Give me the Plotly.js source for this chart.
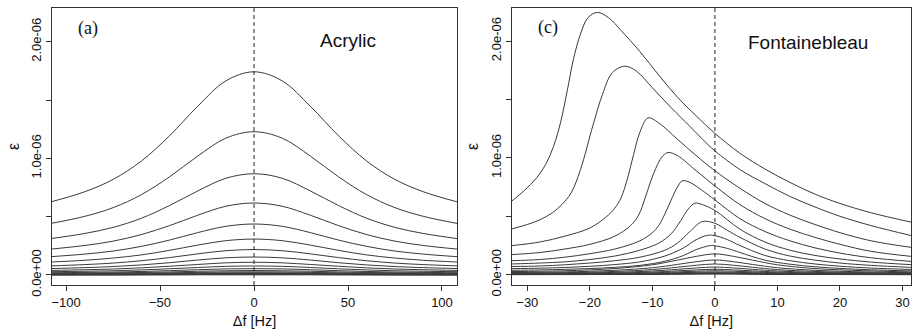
<!DOCTYPE html>
<html><head><meta charset="utf-8">
<script src="https://cdn.plot.ly/plotly-3.0.1.min.js"></script>
<style>html,body{margin:0;padding:0;background:#fff}#chart{width:912px;height:332px}</style>
</head><body><div id="chart"></div>
<script>
// ---------- Panel (a): Acrylic ----------  (epsilon in units of 1e-6)
const acrylicDf = [-108,-90,-75,-60,-45,-30,-15,0,15,30,45,60,75,90,108];
const acrylic1  = [0.627,0.714,0.819,0.976,1.193,1.446,1.664,1.742,1.664,1.446,1.193,0.976,0.819,0.714,0.627];
const acrylic2  = [0.442,0.503,0.577,0.688,0.841,1.019,1.173,1.228,1.173,1.019,0.841,0.688,0.577,0.503,0.442];
const acrylic3  = [0.312,0.356,0.408,0.486,0.595,0.720,0.829,0.868,0.829,0.720,0.595,0.486,0.408,0.356,0.312];
const acrylic4  = [0.222,0.253,0.290,0.346,0.423,0.512,0.589,0.617,0.589,0.512,0.423,0.346,0.290,0.253,0.222];
const acrylic5  = [0.157,0.179,0.205,0.245,0.299,0.363,0.417,0.437,0.417,0.363,0.299,0.245,0.205,0.179,0.157];
const acrylic6  = [0.111,0.126,0.145,0.172,0.211,0.256,0.294,0.308,0.294,0.256,0.211,0.172,0.145,0.126,0.111];
const acrylic7  = [0.078,0.089,0.102,0.122,0.149,0.181,0.208,0.218,0.208,0.181,0.149,0.122,0.102,0.089,0.078];
const acrylic8  = [0.055,0.063,0.072,0.086,0.105,0.128,0.147,0.154,0.147,0.128,0.105,0.086,0.072,0.063,0.055];
const acrylic9  = [0.039,0.045,0.051,0.061,0.075,0.090,0.104,0.109,0.104,0.090,0.075,0.061,0.051,0.045,0.039];
const acrylic10 = [0.028,0.032,0.036,0.043,0.053,0.064,0.074,0.077,0.074,0.064,0.053,0.043,0.036,0.032,0.028];
const acrylic11 = [0.019,0.022,0.025,0.030,0.037,0.045,0.052,0.054,0.052,0.045,0.037,0.030,0.025,0.022,0.019];
const acrylic12 = [0.014,0.016,0.018,0.021,0.026,0.032,0.036,0.038,0.036,0.032,0.026,0.021,0.018,0.016,0.014];
const acrylic13 = [0.010,0.011,0.013,0.015,0.018,0.022,0.026,0.027,0.026,0.022,0.018,0.015,0.013,0.011,0.010];
const acrylic14 = [0.007,0.008,0.009,0.011,0.013,0.016,0.018,0.019,0.018,0.016,0.013,0.011,0.009,0.008,0.007];
const acrylic15 = [0.005,0.006,0.006,0.008,0.009,0.011,0.013,0.014,0.013,0.011,0.009,0.008,0.006,0.006,0.005];
const acrylic16 = [0.003,0.004,0.004,0.005,0.006,0.008,0.009,0.010,0.009,0.008,0.006,0.005,0.004,0.004,0.003];
const acrylic17 = [0.002,0.003,0.003,0.004,0.005,0.006,0.006,0.007,0.006,0.006,0.005,0.004,0.003,0.003,0.002];
const acrylic18 = [0.002,0.002,0.002,0.003,0.003,0.004,0.004,0.005,0.004,0.004,0.003,0.003,0.002,0.002,0.002];
const acrylic19 = [0.001,0.001,0.002,0.002,0.002,0.003,0.003,0.003,0.003,0.003,0.002,0.002,0.002,0.001,0.001];
const acrylic20 = [0.001,0.001,0.001,0.001,0.002,0.002,0.002,0.002,0.002,0.002,0.002,0.001,0.001,0.001,0.001];
const acrylicCurves = [acrylic1,acrylic2,acrylic3,acrylic4,acrylic5,acrylic6,acrylic7,acrylic8,acrylic9,acrylic10,
  acrylic11,acrylic12,acrylic13,acrylic14,acrylic15,acrylic16,acrylic17,acrylic18,acrylic19,acrylic20];

// ---------- Panel (c): Fontainebleau ----------
const fontX1 = [-32.5,-30.5,-28.5,-27,-25.8,-24.7,-23.6,-22.6,-21.5,-20.3,-18.8,-17,-15,-12,-9,-6,-3,0,4,8,12,16,20,25,31.4];
const fontY1 = [0.63,0.72,0.83,0.95,1.10,1.30,1.58,1.85,2.06,2.20,2.245,2.20,2.09,1.91,1.71,1.52,1.36,1.21,1.04,0.905,0.79,0.69,0.61,0.53,0.45];
const fontX2 = [-32.5,-30,-28,-26,-24.5,-23,-21.5,-19.5,-18,-16.4,-14.4,-12.5,-10,-7,-4,-2,0,4,8,12,16,20,25,31.4];
const fontY2 = [0.392,0.43,0.47,0.53,0.60,0.70,0.90,1.28,1.54,1.73,1.785,1.74,1.60,1.43,1.27,1.16,1.06,0.90,0.78,0.67,0.58,0.50,0.42,0.335];
const fontX3 = [-32.5,-28,-24,-20,-17.5,-16,-15,-14,-13,-12,-10.7,-9,-6,-3,0,4,8,12,16,20,25,31.4];
const fontY3 = [0.249,0.28,0.33,0.40,0.49,0.57,0.66,0.82,1.03,1.22,1.342,1.30,1.16,1.02,0.89,0.74,0.61,0.51,0.43,0.36,0.29,0.234];
const fontX4 = [-32.5,-28,-24,-20,-16,-13.5,-12.2,-11.2,-10.2,-9.2,-8.3,-7.5,-6,-3,0,4,8,12,16,20,25,31.4];
const fontY4 = [0.172,0.19,0.22,0.26,0.33,0.42,0.51,0.65,0.81,0.94,1.02,1.046,1.02,0.89,0.76,0.60,0.48,0.39,0.32,0.26,0.20,0.157];
const fontX5 = [-32.5,-28,-24,-20,-16,-12,-10,-9,-8,-7,-6,-5.2,-4,-2,0,4,8,12,16,20,25,31.4];
const fontY5 = [0.12,0.13,0.15,0.18,0.22,0.29,0.36,0.42,0.52,0.64,0.75,0.804,0.79,0.72,0.64,0.48,0.37,0.29,0.23,0.185,0.145,0.114];
const fontX6 = [-32.5,-28,-24,-20,-16,-12,-9,-7,-5.5,-4.3,-3.2,-2,0,4,8,12,16,20,25,31.4];
const fontY6 = [0.092,0.10,0.11,0.13,0.16,0.21,0.27,0.35,0.46,0.56,0.612,0.60,0.55,0.39,0.28,0.21,0.165,0.135,0.108,0.086];
const fontX7 = [-32.5,-28,-24,-20,-16,-12,-8,-6,-4,-2,0,2,4,8,12,16,20,25,31.4];
const fontY7 = [0.07,0.075,0.085,0.10,0.12,0.15,0.21,0.27,0.37,0.455,0.44,0.38,0.32,0.22,0.16,0.125,0.10,0.08,0.063];
const fontX8 = [-32.5,-28,-24,-20,-16,-12,-8,-5,-3,-1.2,0,2,4,8,12,16,20,25,31.4];
const fontY8 = [0.052,0.056,0.062,0.072,0.087,0.11,0.16,0.23,0.30,0.337,0.335,0.30,0.25,0.165,0.12,0.092,0.073,0.057,0.045];
const fontX9 = [-32.5,-28,-24,-20,-16,-12,-8,-5,-3,-0.7,0,2,4,8,12,16,20,25,31.4];
const fontY9 = [0.038,0.041,0.046,0.053,0.063,0.08,0.115,0.165,0.215,0.25,0.248,0.225,0.19,0.125,0.09,0.068,0.054,0.042,0.033];
const fontXs  = [-32.5,-24,-16,-10,-6,-3,0,3,6,10,16,24,31.4];
const fontY10 = [0.027,0.034,0.053,0.085,0.125,0.157,0.178,0.157,0.125,0.085,0.053,0.034,0.024];
const fontY11 = [0.019,0.024,0.038,0.060,0.088,0.111,0.126,0.111,0.088,0.060,0.038,0.024,0.017];
const fontY12 = [0.014,0.017,0.028,0.044,0.064,0.081,0.092,0.081,0.064,0.044,0.028,0.017,0.012];
const fontY13 = [0.010,0.013,0.020,0.032,0.046,0.058,0.066,0.058,0.046,0.032,0.020,0.013,0.009];
const fontY14 = [0.007,0.009,0.014,0.023,0.033,0.041,0.047,0.041,0.033,0.023,0.014,0.009,0.006];
const fontY15 = [0.005,0.006,0.010,0.016,0.024,0.030,0.034,0.030,0.024,0.016,0.010,0.006,0.005];
const fontY16 = [0.004,0.005,0.007,0.012,0.017,0.021,0.024,0.021,0.017,0.012,0.007,0.005,0.003];
const fontY17 = [0.003,0.003,0.005,0.008,0.012,0.015,0.017,0.015,0.012,0.008,0.005,0.003,0.002];
const fontY18 = [0.002,0.002,0.004,0.006,0.008,0.011,0.012,0.011,0.008,0.006,0.004,0.002,0.002];
const fontY19 = [0.001,0.002,0.003,0.004,0.006,0.008,0.009,0.008,0.006,0.004,0.003,0.002,0.001];
const fontY20 = [0.001,0.001,0.002,0.003,0.004,0.005,0.006,0.005,0.004,0.003,0.002,0.001,0.001];
const fontCurves = [
  [fontX1,fontY1],[fontX2,fontY2],[fontX3,fontY3],[fontX4,fontY4],[fontX5,fontY5],
  [fontX6,fontY6],[fontX7,fontY7],[fontX8,fontY8],[fontX9,fontY9],
  [fontXs,fontY10],[fontXs,fontY11],[fontXs,fontY12],[fontXs,fontY13],[fontXs,fontY14],
  [fontXs,fontY15],[fontXs,fontY16],[fontXs,fontY17],[fontXs,fontY18],[fontXs,fontY19],[fontXs,fontY20]];

// ticks
const yTickVals = [0,0.5,1,1.5,2];
const yTickText = ['0.0e+00','','1.0e-06','','2.0e-06'];
const acrylicTicks = [-100,-50,0,50,100];
const fontTicks = [-30,-20,-10,0,10,20,30];

const FONT = 'Liberation Sans, Arial, Helvetica, sans-serif';
const SERIF = 'Liberation Serif, Times New Roman, serif';
const LINE = {color:'#3a3a3a', width:1, shape:'spline', smoothing:1};

const traces = [];
acrylicCurves.forEach(y => traces.push({type:'scatter', mode:'lines', x:acrylicDf, y:y,
  xaxis:'x', yaxis:'y', line:LINE, hoverinfo:'skip', showlegend:false}));
fontCurves.forEach(c => traces.push({type:'scatter', mode:'lines', x:c[0], y:c[1],
  xaxis:'x2', yaxis:'y2', line:LINE, hoverinfo:'skip', showlegend:false}));

const ax = {showline:true, mirror:true, linecolor:'#333', linewidth:1, ticks:'outside', ticklen:5,
  tickwidth:1, tickcolor:'#333', showgrid:false, zeroline:false,
  tickfont:{family:FONT, size:13, color:'#111'}};
const H = 332, W = 912;
const yDom = [(H-285)/H, (H-8)/H];
const xTitle = {text:'Δf [Hz]', font:{family:FONT,size:14.5,color:'#111'}, standoff:7};
const yTitle = {text:'ε', font:{family:FONT,size:16,color:'#111'}, standoff:5};

const layout = {
  width:W, height:H, margin:{l:0,r:0,t:0,b:0}, paper_bgcolor:'#fff', plot_bgcolor:'#fff',
  font:{family:FONT, color:'#111'},
  xaxis: Object.assign({}, ax, {domain:[52/W, 457/W], range:[-107.5,108], tickmode:'array', tickvals:acrylicTicks,
    anchor:'y', title:xTitle}),
  yaxis: Object.assign({}, ax, {domain:yDom, range:[-0.086,2.289], tickmode:'array', tickvals:yTickVals, ticktext:yTickText,
    tickangle:-90, anchor:'x', title:yTitle}),
  xaxis2: Object.assign({}, ax, {domain:[511.7/W, 911/W], range:[-32.5,31.36], tickmode:'array', tickvals:fontTicks,
    anchor:'y2', title:xTitle}),
  yaxis2: Object.assign({}, ax, {domain:yDom, range:[-0.088,2.283], tickmode:'array', tickvals:yTickVals, ticktext:yTickText,
    tickangle:-90, anchor:'x2', title:yTitle}),
  shapes:[
    {type:'line', xref:'x', yref:'y domain', x0:0, x1:0, y0:0, y1:1, line:{color:'#222', width:1, dash:'4px,3px'}},
    {type:'line', xref:'x2', yref:'y2 domain', x0:0, x1:0, y0:0, y1:1, line:{color:'#222', width:1, dash:'4px,3px'}}
  ],
  annotations:[
    {text:'(a)', xref:'paper', yref:'paper', x:88/W, y:(H-29)/H, showarrow:false, xanchor:'center', yanchor:'middle',
      font:{family:SERIF, size:18, color:'#111'}},
    {text:'Acrylic', xref:'paper', yref:'paper', x:348/W, y:(H-40)/H, showarrow:false, xanchor:'center', yanchor:'middle',
      font:{family:FONT, size:19, color:'#111'}},
    {text:'(c)', xref:'paper', yref:'paper', x:548/W, y:(H-27)/H, showarrow:false, xanchor:'center', yanchor:'middle',
      font:{family:SERIF, size:18, color:'#111'}},
    {text:'Fontainebleau', xref:'paper', yref:'paper', x:808/W, y:(H-42)/H, showarrow:false, xanchor:'center', yanchor:'middle',
      font:{family:FONT, size:19, color:'#111'}}
  ]
};

Plotly.newPlot('chart', traces, layout, {staticPlot:true, displayModeBar:false});
</script></body></html>
